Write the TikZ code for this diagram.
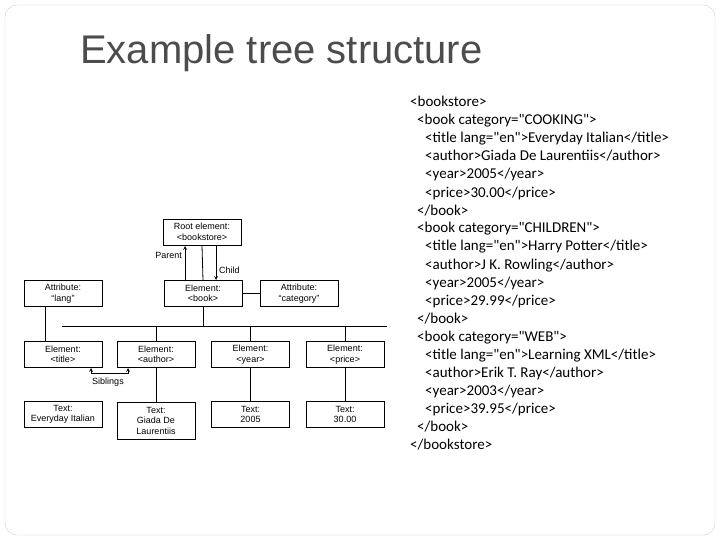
\documentclass[tikz,border=0pt]{standalone}
\usepackage{fontspec}
\setmainfont{Liberation Sans}
\newfontfamily\codefont{Carlito}
\begin{document}
\begin{tikzpicture}[x=1pt,y=-1pt,
 bx/.style={draw,line width=0.8pt,minimum width=78pt,minimum height=26pt,inner sep=0pt,align=center,font=\fontsize{9}{10.5}\selectfont},
 ln/.style={line width=0.8pt},
 ar/.style={line width=0.7pt,-stealth},
 cd/.style={anchor=base west,inner sep=0pt,font=\codefont\fontsize{15}{16}\selectfont}]
\useasboundingbox (0,0) rectangle (720,540);
\draw[gray!40,rounded corners=12pt] (5,5) rectangle (715,535);
\node[anchor=base west,inner sep=0pt,text=black!70,font=\fontsize{40}{42}\selectfont] (t) at (80,64) {Example tree structure};
% boxes
\node[bx] (root) at (202,232) {Root element:\\<bookstore>};
\node[bx] (book) at (203,293.5) {Element:\\<book>};
\node[bx] (lang) at (63,293.5) {Attribute:\\``lang''};
\node[bx] (cat) at (299,293.5) {Attribute:\\``category''};
\node[bx] (title) at (63,354.5) {Element:\\<title>};
\node[bx] (auth) at (156,354.5) {Element:\\<author>};
\node[bx] (year) at (250.5,354.5) {Element:\\<year>};
\node[bx] (price) at (345,354.5) {Element:\\<price>};
\node[bx] (t1) at (63,414.5) {Text:\\Everyday Italian};
\node[bx,minimum height=37pt] (t2) at (156,420.5) {Text:\\Giada De\\Laurentiis};
\node[bx] (t3) at (250.5,414.5) {Text:\\2005};
\node[bx] (t4) at (345,414.5) {Text:\\30.00};
% connectors
\draw[ln] (root.south) -- (book.north);
\draw[ln] (book.east) -- (cat.west);
\draw[ln] ([xshift=-18pt]lang.south) -- ([xshift=-18pt]title.north);
\coordinate (bus) at (203,326);
\draw[ln] (book.south) -- (bus);
\draw[ln] (62,326) -- (387,326);
\draw[ln] (auth.north) -- (auth.north |- bus);
\draw[ln] (year.north) -- (year.north |- bus);
\draw[ln] (price.north) -- (price.north |- bus);
\draw[ln] (auth.south) -- (t2.north);
\draw[ln] (year.south) -- (t3.north);
\draw[ln] (price.south) -- (t4.north);
\draw[ar] (185,280) -- (185,246);
\draw[ar] (216,246) -- (216,280);
\node[font=\fontsize{9}{10}\selectfont,anchor=east,inner sep=1pt] (par) at (183,255) {Parent};
\node[font=\fontsize{9}{10}\selectfont,anchor=west,inner sep=1pt] (chd) at (218,270) {Child};
\draw[line width=0.7pt,stealth-stealth] (91,368) -- (91,373) -- (128,373) -- (128,368);
\node[font=\fontsize{9}{10}\selectfont,inner sep=1pt] (sib) at (108,382) {Siblings};
% code
\node[cd] (c1) at (410,107) {<bookstore>};
\node[cd] (c2) at (417,125) {<book category="COOKING">};
\node[cd] (c3) at (425,143) {<title lang="en">Everyday Italian</title>};
\node[cd] (c4) at (425,161) {<author>Giada De Laurentiis</author>};
\node[cd] (c5) at (425,179) {<year>2005</year>};
\node[cd] (c6) at (425,197) {<price>30.00</price>};
\node[cd] (c7) at (417,215) {</book>};
\node[cd] (c8) at (417,233) {<book category="CHILDREN">};
\node[cd] (c9) at (425,251) {<title lang="en">Harry Potter</title>};
\node[cd] (c10) at (425,269) {<author>J K. Rowling</author>};
\node[cd] (c11) at (425,287) {<year>2005</year>};
\node[cd] (c12) at (425,305) {<price>29.99</price>};
\node[cd] (c13) at (417,323) {</book>};
\node[cd] (c14) at (417,341) {<book category="WEB">};
\node[cd] (c15) at (425,359) {<title lang="en">Learning XML</title>};
\node[cd] (c16) at (425,377) {<author>Erik T. Ray</author>};
\node[cd] (c17) at (425,395) {<year>2003</year>};
\node[cd] (c18) at (425,413) {<price>39.95</price>};
\node[cd] (c19) at (417,431) {</book>};
\node[cd] (c20) at (410,449) {</bookstore>};
\end{tikzpicture}
\end{document}
